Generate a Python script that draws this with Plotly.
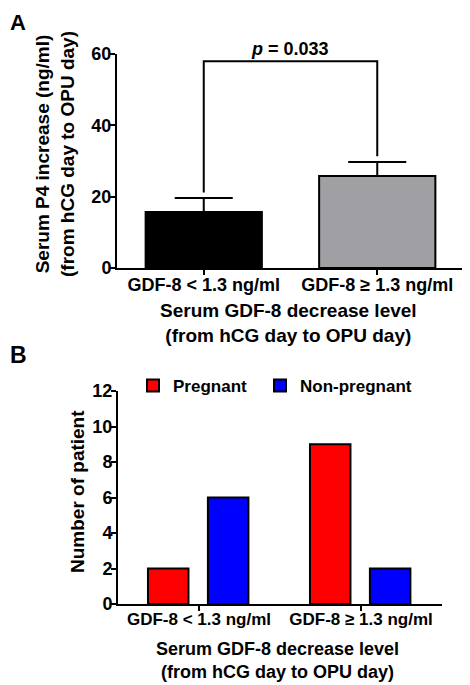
import plotly.graph_objects as go

# ---------------- data ----------------
categories = ["GDF-8 < 1.3 ng/ml", "GDF-8 \u2265 1.3 ng/ml"]

# Panel A: serum P4 increase (mean, SEM)
p4_mean = [15.7, 25.8]
p4_sem = [3.9, 3.9]
p_value_text = "<i>p</i> = 0.033"
bracket_height = 58

# Panel B: number of patients
pregnant = [2, 9]
non_pregnant = [6, 2]

# The page body has an 8px default margin, so the figure is sized to fill the
# rest of the 470x685 window and positions below are given in window pixels.
OFF = 8
W, H = 470 - OFF, 685 - OFF
FONT = "Liberation Sans, Arial, sans-serif"

def px_x(p):
    return (p - OFF) / W

def px_y(p):
    return 1 - (p - OFF) / H

fig = go.Figure()

# Panel A bars
fig.add_trace(go.Bar(
    x=categories, y=p4_mean, width=0.67,
    marker=dict(color=["#000000", "#a0a0a4"], line=dict(color="#000000", width=2)),
    error_y=dict(type="data", array=p4_sem, arrayminus=[0, 0], symmetric=False,
                 color="#000000", thickness=2, width=29),
    xaxis="x", yaxis="y", showlegend=False, hoverinfo="skip",
))

# significance bracket
leg_bottom = [m + s + 1.6 for m, s in zip(p4_mean, p4_sem)]
fig.add_trace(go.Scatter(
    x=[categories[0], categories[0], categories[1], categories[1]],
    y=[leg_bottom[0], bracket_height, bracket_height, leg_bottom[1]],
    mode="lines", line=dict(color="#000000", width=2),
    xaxis="x", yaxis="y", showlegend=False, hoverinfo="skip", cliponaxis=False,
))

# Panel B bars
fig.add_trace(go.Bar(
    x=categories, y=pregnant, name="Pregnant", width=0.25, offset=-0.315,
    marker=dict(color="#ff0000", line=dict(color="#000000", width=2)),
    xaxis="x2", yaxis="y2", hoverinfo="skip", legend="legend",
))
fig.add_trace(go.Bar(
    x=categories, y=non_pregnant, name="Non-pregnant", width=0.25, offset=0.055,
    marker=dict(color="#0000ff", line=dict(color="#000000", width=2)),
    xaxis="x2", yaxis="y2", hoverinfo="skip", legend="legend2",
))

axis_common = dict(
    showline=True, linecolor="#000000", linewidth=2,
    ticks="outside", ticklen=5, tickwidth=2, tickcolor="#000000",
    showgrid=False, zeroline=False, fixedrange=True, automargin=False,
)

legend_common = dict(orientation="h", xanchor="left", yanchor="middle",
                     font=dict(size=17), bgcolor="rgba(0,0,0,0)")

fig.update_layout(
    width=W, height=H,
    margin=dict(l=0, r=0, t=0, b=0, autoexpand=False),
    paper_bgcolor="#ffffff", plot_bgcolor="#ffffff",
    font=dict(family=FONT, color="#000000", size=18, weight="bold"),
    barmode="overlay",
    xaxis=dict(domain=[px_x(117), px_x(464)], anchor="y", type="category",
               range=[-0.5, 1.5], tickfont=dict(size=18), ticklabelstandoff=-6,
               **axis_common),
    yaxis=dict(domain=[px_y(268), px_y(54)], anchor="x", range=[0, 60], dtick=20,
               tickfont=dict(size=18), ticklabelstandoff=-5, **axis_common),
    xaxis2=dict(domain=[px_x(118), px_x(442)], anchor="y2", type="category",
                range=[-0.5, 1.5], tickfont=dict(size=17), ticklabelstandoff=-6,
                **axis_common),
    yaxis2=dict(domain=[px_y(604), px_y(391)], anchor="x2", range=[0, 12], dtick=2,
                tickfont=dict(size=18), ticklabelstandoff=-5, **axis_common),
    legend=dict(x=px_x(133), y=px_y(386), **legend_common),
    legend2=dict(x=px_x(260), y=px_y(386), **legend_common),
    showlegend=True,
)

annotations = [
    dict(text="A", x=px_x(OFF), y=px_y(OFF), xanchor="left", yanchor="top",
         font=dict(size=22)),
    dict(text="B", x=px_x(OFF), y=px_y(355), xanchor="left", yanchor="middle",
         font=dict(size=23)),
    dict(text=p_value_text, x=px_x(290), y=px_y(49), xanchor="center", yanchor="middle",
         font=dict(size=18)),
    dict(text="Serum P4 increase (ng/ml)<br>(from hCG day to OPU day)", textangle=-90,
         x=px_x(55), y=px_y(154), xanchor="center", yanchor="middle", font=dict(size=19)),
    dict(text="Serum GDF-8 decrease level<br>(from hCG day to OPU day)",
         x=px_x(288), y=px_y(323), xanchor="center", yanchor="middle", font=dict(size=19)),
    dict(text="Number of patient", textangle=-90,
         x=px_x(77), y=px_y(492), xanchor="center", yanchor="middle", font=dict(size=19)),
    dict(text="Serum GDF-8 decrease level<br>(from hCG day to OPU day)",
         x=px_x(277), y=px_y(660), xanchor="center", yanchor="middle", font=dict(size=18)),
]
for a in annotations:
    a.update(xref="paper", yref="paper", showarrow=False)
fig.update_layout(annotations=annotations)

fig.write_html("out.html", config={"displayModeBar": False})
